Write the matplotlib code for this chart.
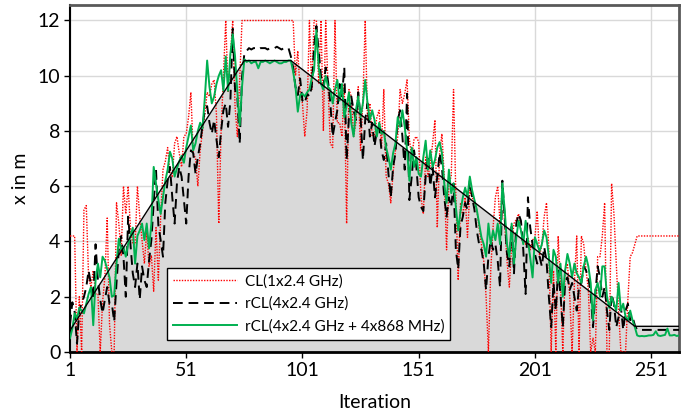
import numpy as np
import matplotlib
matplotlib.use("Agg")
import matplotlib.pyplot as plt

plt.rcParams['font.family'] = ['Lato', 'DejaVu Sans']

# ground truth path (vertices of the true trajectory)
truth_iter = [1, 76, 96, 244, 263]
truth_x = [0.78, 10.55, 10.55, 0.93, 0.93]

# CL(1x2.4 GHz)
cl_single = [
    4.2, 4.2, 4.2, 0, 2.0, 0, 5.15, 5.3, 2.7, 2.35, 2.95, 2.1, 2.1, 0, 1.8, 2.7, 4.85, 1.0, 0, 0,
    5.4, 4.65, 3.5, 6.0, 5.0, 6.0, 4.5, 3.9, 3.9, 6.0, 4.9, 4.05, 3.2, 4.4, 3.1, 3.5, 2.2, 4.5,
    2.6, 4.9, 6.6, 6.9, 7.4, 6.45, 6.35, 7.55, 7.8, 7.2, 6.7, 7.8, 7.9, 8.5, 9.4, 7.2, 7.0, 6.0,
    7.3, 8.0, 8.6, 9.4, 9.25, 9.7, 9.85, 8.6, 4.65, 8.0, 10.0, 12.0, 9.4, 10.7, 12.0, 8.9, 7.8,
    9.85, 12.0, 12.0,
    12.0, 12.0, 12.0, 12.0, 12.0, 12.0, 12.0, 12.0, 12.0, 12.0, 12.0, 12.0, 12.0, 12.0, 12.0,
    12.0, 12.0, 12.0, 12.0, 12.0, 12.0, 10.0, 10.9, 9.4, 9.0, 7.8, 8.75, 12.0, 9.5, 12.0, 12.0,
    9.7, 12.0, 8.0, 12.0, 9.6, 7.55,
    7.4, 12.0, 8.3, 8.3, 7.8, 9.7, 4.65, 9.5, 9.25, 7.8, 8.3, 9.6, 7.3, 9.1, 12.0, 8.4, 9.0, 7.8,
    7.8, 8.5, 8.75, 7.4, 9.5, 6.35, 6.1, 5.4, 6.5, 7.3, 7.8, 9.5, 9.0, 9.35, 9.85, 7.7, 7.05,
    7.7, 7.8, 7.6,
    5.6, 5.0, 7.05, 6.35, 6.8, 7.55, 8.4, 4.5, 7.2, 7.9, 6.35, 3.7, 6.1, 6.35, 9.5, 5.6, 2.6,
    5.4, 4.9, 5.6, 4.15, 5.85, 5.6, 5.4, 5.15, 4.5, 3.9, 3.3, 2.0, 0, 2.95, 4.5, 5.6, 6.0, 4.65,
    6.1, 4.65,
    3.3, 2.35, 3.9, 4.65, 4.8, 5.0, 4.4, 4.05, 3.9, 4.15, 3.7, 4.05, 4.15, 5.1, 3.45, 3.9, 4.9,
    5.4, 3.7, 0, 2.95, 0, 4.2, 2.5, 0, 2.95, 3.2, 2.0, 0, 2.5, 4.2, 0, 4.2, 3.9, 2.95, 2.25, 0,
    0.5,
    0, 3.45, 3.45, 4.2, 5.4, 0, 0, 6.1, 5.0, 3.2, 1.5, 0, 0, 0, 1.9, 3.45, 3.6, 3.9,
    4.2, 4.2, 4.2, 4.2, 4.2, 4.2, 4.2, 4.2, 4.2, 4.2, 4.2, 4.2, 4.2, 4.2, 4.2, 4.2, 4.2, 4.2, 4.2,
]

# rCL(4x2.4 GHz)
rcl_24 = [
    1.0, 1.8, 1.45, 0.3, 1.5, 1.75, 2.0, 2.35, 2.95, 2.45, 1.9, 3.9, 2.6, 1.9, 1.4, 1.9, 2.35,
    1.75, 1.75, 1.1, 2.5, 3.7, 4.2, 3.45, 2.0, 4.9, 3.9, 2.85, 2.35, 3.2, 1.9, 3.1, 2.6, 2.35,
    3.3, 4.05, 5.4, 6.6,
    4.6, 4.05, 3.45, 5.4, 6.2, 6.7, 5.6, 4.65, 6.1, 6.7, 6.35, 5.5, 4.65, 6.35, 7.3, 7.2, 6.45,
    7.05, 7.55, 8.2, 8.75, 8.9, 8.3, 7.9, 8.4, 7.7, 7.05, 8.0, 8.75, 9.0, 8.15, 9.1, 11.7, 9.5,
    9.2, 7.55, 9.95, 10.8,
    10.9, 11.0, 10.95, 11.0, 11.0, 10.95, 11.0, 11.0, 11.0, 10.95, 11.0, 11.0, 11.0, 11.05, 11.0,
    10.95, 11.0, 11.0, 11.0, 10.7, 10.3, 9.6, 9.3, 9.9, 9.1, 9.0, 9.35, 9.25, 9.6, 11.05, 11.8,
    10.9, 9.96, 9.6, 10.3, 9.8, 9.0,
    7.8, 8.3, 8.75, 9.7, 9.25, 10.3, 6.95, 8.5, 9.25, 8.75, 8.4, 9.4, 8.5, 6.95, 8.4, 9.0, 7.8,
    8.3, 7.45, 8.0, 8.15, 7.3, 6.95, 7.55, 6.45, 5.6, 6.7, 7.2, 8.4, 8.75, 7.8, 6.6, 9.35, 5.5,
    6.35, 7.3, 6.7, 5.6,
    5.25, 5.1, 6.35, 7.1, 6.0, 6.7, 5.6, 6.35, 7.2, 6.7, 5.6, 4.9, 5.6, 5.25, 6.1, 3.7, 3.0,
    4.55, 4.9, 5.4, 5.15, 6.2, 5.6, 5.15, 4.4, 3.9, 3.7, 3.2, 2.25, 3.45, 4.05, 3.7, 3.9, 3.3,
    2.35, 6.2, 4.9,
    3.55, 3.1, 4.65, 2.85, 4.65, 5.0, 4.75, 3.7, 2.1, 5.6, 4.5, 3.9, 3.55, 3.2, 3.45, 3.1, 3.8,
    3.3, 2.0, 0.9, 2.5, 1.5, 2.95, 2.1, 0.9, 2.5, 2.7, 2.25, 2.5, 2.0, 1.5, 2.35, 2.5, 3.1,
    2.95, 2.7, 2.1, 0.9,
    2.1, 3.1, 2.7, 2.0, 2.35, 1.5, 0.8, 2.1, 1.75, 0.9, 1.27, 1.63, 0.8, 1.5, 1.75, 1.15, 1.27,
    0.97,
    0.8, 0.8, 0.8, 0.8, 0.8, 0.8, 0.8, 0.8, 0.8, 0.8, 0.8, 0.8, 0.8, 0.8, 0.8, 0.8, 0.8, 0.8, 0.8,
]

# rCL(4x2.4 GHz + 4x868 MHz)
rcl_24_868 = [
    0.5, 0.85, 1.4, 1.2, 1.6, 1.5, 1.4, 1.75, 2.1, 2.35, 0.97, 2.6, 3.2, 2.7, 3.45, 3.3, 3.0,
    2.7, 2.0, 2.05, 3.2, 4.1, 3.7, 3.8, 3.45, 3.9, 4.2, 4.5, 3.2, 4.2, 4.4, 4.65, 4.05, 4.65,
    3.75, 4.65, 6.7, 6.1,
    5.5, 5.0, 5.6, 6.2, 6.6, 7.25, 7.0, 6.35, 6.65, 6.9, 7.1, 6.85, 7.4, 7.8, 8.2, 7.3, 7.55,
    8.0, 8.3, 8.1, 9.2, 10.55, 9.6, 9.0, 9.25, 9.7, 10.0, 10.2, 9.45, 10.7, 9.45, 10.8, 11.5,
    10.7, 9.4, 8.2, 9.6, 10.6,
    10.5, 10.55, 10.45, 10.5, 10.5, 10.27, 10.5, 10.5, 10.55, 10.5, 10.45, 10.5, 10.55, 10.5,
    10.45, 10.45, 10.5, 10.5, 10.55, 10.55, 10.15, 9.6, 8.7, 9.3, 9.35, 9.25, 9.4, 9.5, 9.9,
    10.2, 11.65, 10.3, 9.7, 9.5, 10.0, 9.6, 9.5,
    9.0, 9.5, 9.85, 9.1, 9.7, 8.5, 8.9, 9.4, 8.3, 7.8, 8.75, 9.25, 8.5, 9.0, 9.85, 9.0, 8.4,
    8.75, 8.4, 7.8, 8.3, 7.9, 8.0, 7.4, 7.05, 6.6, 7.2, 7.55, 8.5, 8.15, 8.75, 8.15, 7.3, 6.2,
    7.4, 6.7, 7.05, 6.45,
    6.35, 7.05, 7.65, 6.6, 7.3, 6.7, 6.95, 7.4, 7.6, 7.2, 6.1, 5.4, 6.6, 5.75, 6.1, 5.25, 4.4,
    5.1, 5.6, 5.95, 5.6, 6.35, 5.85, 5.5, 5.15, 4.65, 4.15, 3.9, 3.45, 4.65, 3.9, 4.4, 4.05,
    4.65, 3.9, 6.1, 5.15,
    3.9, 3.45, 4.65, 3.2, 4.15, 4.75, 4.4, 3.9, 4.75, 4.05, 3.4, 2.7, 4.15, 3.9, 3.65, 3.9, 4.4,
    4.15, 3.45, 2.5, 3.7, 3.45, 2.5, 3.2, 2.0, 2.95, 3.55, 3.2, 2.7, 3.2, 2.85, 2.7, 2.5, 3.1,
    3.45, 3.1, 2.5, 1.15,
    2.25, 2.5, 2.0, 3.1, 3.1, 2.0, 1.6, 2.0, 1.75, 1.5, 2.5, 1.5, 1.75, 1.27, 1.15, 1.5, 1.15,
    0.9,
    0.6, 0.57, 0.58, 0.57, 0.58, 0.6, 0.6, 0.62, 0.75, 0.6, 0.58, 0.6, 0.62, 0.85, 0.6, 0.6,
    0.62, 0.58, 0.6,
]

iterations = np.arange(1, len(cl_single) + 1)
x_ticks = [1, 51, 101, 151, 201, 251]
y_ticks = [0, 2, 4, 6, 8, 10, 12]

fig = plt.figure(figsize=(6.98, 4.15), dpi=100)
ax = fig.add_axes([0.1003, 0.1518, 0.8725, 0.8361])

ax.fill_between(truth_iter, truth_x, 0, color='#d9d9d9', lw=0, zorder=1)
ax.plot(iterations, cl_single, color='#ff0000', lw=1.0, ls=(0, (1, 1)), zorder=3,
        label='CL(1x2.4 GHz)')
ax.plot(iterations, rcl_24, color='black', lw=1.4, ls=(0, (5, 3)), zorder=4,
        label='rCL(4x2.4 GHz)')
ax.plot(iterations, rcl_24_868, color='#00b050', lw=1.4, zorder=5,
        label='rCL(4x2.4 GHz + 4x868 MHz)')
ax.plot(truth_iter, truth_x, color='black', lw=1.0, zorder=6)

ax.set_xlim(1, len(cl_single))
ax.set_ylim(0, 12.56)
ax.set_xticks(x_ticks)
ax.set_yticks(y_ticks)
ax.tick_params(labelsize=14, length=4, width=1, direction='out', color='black', pad=3)
ax.grid(True, color='#d9d9d9', lw=1)
ax.set_axisbelow(True)

ax.spines['left'].set_color('black')
ax.spines['left'].set_linewidth(1.5)
ax.spines['bottom'].set_color('black')
ax.spines['bottom'].set_linewidth(2)
for side in ['top', 'right']:
    ax.spines[side].set_color('#595959')
    ax.spines[side].set_linewidth(2)

ax.set_xlabel('Iteration', fontsize=14, labelpad=11)
ax.set_ylabel('x in m', fontsize=14, labelpad=6)

leg = ax.legend(loc='lower left', bbox_to_anchor=(0.159, 0.035), fontsize=11,
                fancybox=False, framealpha=1, edgecolor='black', handlelength=4.2,
                handletextpad=0.5, borderpad=0.4, labelspacing=0.55,
                borderaxespad=0)
leg.get_frame().set_linewidth(1.0)

fig.savefig('out.png', dpi=100)
